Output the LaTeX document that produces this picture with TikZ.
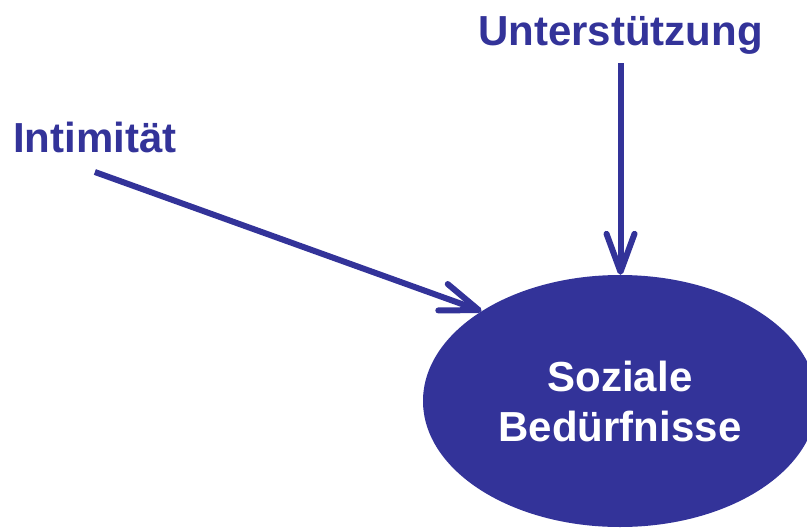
\documentclass[tikz,border=0pt]{standalone}
\usepackage{fontspec}
\setmainfont{Liberation Sans}
\usetikzlibrary{shapes.geometric,arrows.meta}
\definecolor{navy}{RGB}{51,51,153}
\tikzset{
  lbl/.style={text=navy,font=\fontsize{42}{50}\selectfont\bfseries,inner sep=0pt,anchor=base west},
  arr/.style={draw=navy,line width=6pt,-{Straight Barb[length=38pt,width=28pt,round]}},
  bubble/.style={ellipse,fill=navy,text=white,minimum width=394pt,minimum height=252pt,inner sep=0pt,align=center,font=\fontsize{42}{50}\selectfont\bfseries}
}
\begin{document}
\begin{tikzpicture}[x=1pt,y=-1pt]
\useasboundingbox (0,0) rectangle (807,528);
\clip (0,0) rectangle (807,528);
\node[bubble] (sb) at (620,401) {Soziale\\Bedürfnisse};
\node[lbl] (int) at (13,152) {Intimität};
\node[lbl] (unt) at (478,45) {Unterstützung};
\coordinate (i1) at ([yshift=-20pt]int.base);
\coordinate (u1) at ([yshift=-18pt]unt.base);
\draw[arr] (i1) -- (sb.147);
\draw[arr] (u1) -- (u1 |- sb.north);
\end{tikzpicture}
\end{document}
